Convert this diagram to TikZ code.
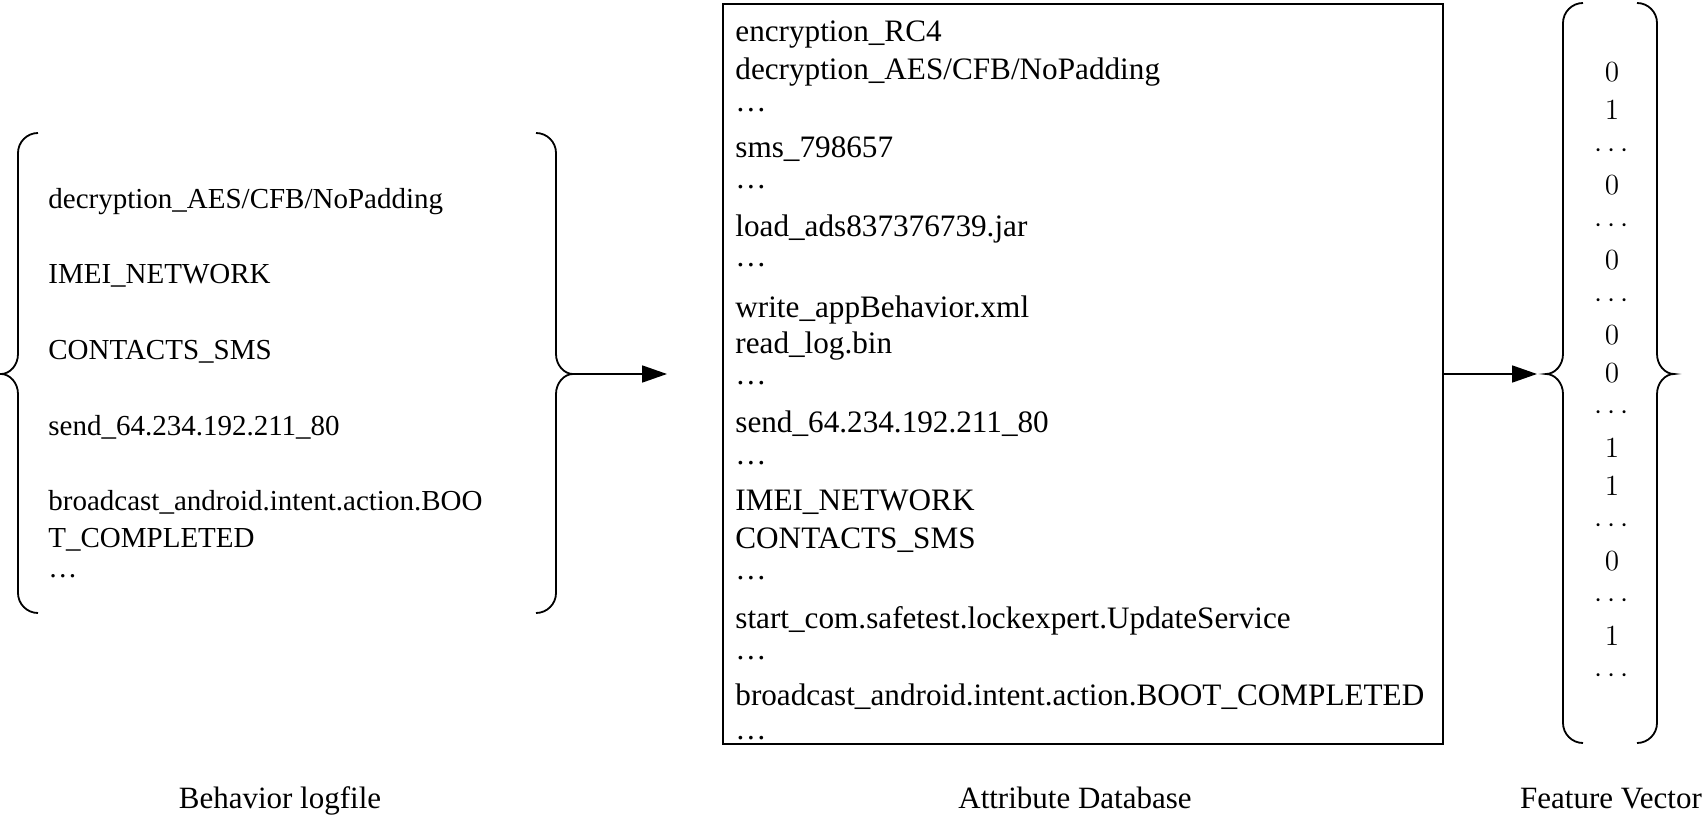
\documentclass[tikz,border=0pt]{standalone}
\usepackage{fix-cm}
\usepackage[no-math]{fontspec}
\setmainfont{Liberation Serif}
\usetikzlibrary{arrows.meta}

\tikzset{
  brace/.style={line width=0.9pt},
  logitem/.style={anchor=base west,inner sep=0pt,font=\fontsize{14.5}{17}\selectfont},
  dbitem/.style={anchor=base west,inner sep=0pt,font=\fontsize{15.6}{18}\selectfont},
  fvitem/.style={anchor=base,inner sep=0pt,font=\fontsize{14.6}{17}\selectfont},
  caplabel/.style={anchor=base,inner sep=0pt,font=\fontsize{15.5}{18}\selectfont},
  flow/.style={line width=0.9pt,-{Triangle[length=12.5pt,width=8.5pt]}}
}

% curly bracket: stem x, top, bottom, cusp, side (1 = opens right, -1 = opens left)
\newcommand{\curly}[5]{%
  \draw[brace] ({#1+(#5)*20},#2) .. controls ({#1+(#5)*9},#2) and (#1,#2+9) .. (#1,#2+20)
    -- (#1,#4-20) .. controls (#1,#4-9) and ({#1-(#5)*8},#4) .. ({#1-(#5)*17},#4)
    .. controls ({#1-(#5)*8},#4) and (#1,#4+9) .. (#1,#4+20)
    -- (#1,#3-20) .. controls (#1,#3-9) and ({#1+(#5)*9},#3) .. ({#1+(#5)*20},#3);}

\begin{document}
\begin{tikzpicture}[x=0.5pt,y=-0.5pt]
  \useasboundingbox (0,0) rectangle (1708,818);

  % behavior logfile
  \curly{18}{133}{613}{374}{1}
  \curly{556}{133}{613}{374}{-1}
  \node[logitem] (log1) at (48,209) {decryption\_AES/CFB/NoPadding};
  \node[logitem] (log2) at (48,284) {IMEI\_NETWORK};
  \node[logitem] (log3) at (48,359) {CONTACTS\_SMS};
  \node[logitem] (log4) at (48,435) {send\_64.234.192.211\_80};
  \node[logitem] (log5) at (48,510) {broadcast\_android.intent.action.BOO};
  \node[logitem] (log6) at (48,547) {T\_COMPLETED};
  \node[logitem] (log7) at (48,577) {\dots};

  % attribute database
  \node[draw,line width=1pt,minimum width=360pt,minimum height=370pt,inner sep=0pt] (db) at (1083,374) {};
  \node[dbitem] (db1) at (735,42) {encryption\_RC4};
  \node[dbitem] (db2) at (735,80) {decryption\_AES/CFB/NoPadding};
  \node[dbitem] (db3) at (735,112) {\dots};
  \node[dbitem] (db4) at (735,158) {sms\_798657};
  \node[dbitem] (db5) at (735,189) {\dots};
  \node[dbitem] (db6) at (735,237) {load\_ads837376739.jar};
  \node[dbitem] (db7) at (735,267) {\dots};
  \node[dbitem] (db8) at (735,317) {write\_appBehavior.xml};
  \node[dbitem] (db9) at (735,353) {read\_log.bin};
  \node[dbitem] (db10) at (735,384) {\dots};
  \node[dbitem] (db11) at (735,432) {send\_64.234.192.211\_80};
  \node[dbitem] (db12) at (735,464) {\dots};
  \node[dbitem] (db13) at (735,510) {IMEI\_NETWORK};
  \node[dbitem] (db14) at (735,548) {CONTACTS\_SMS};
  \node[dbitem] (db15) at (735,579) {\dots};
  \node[dbitem] (db16) at (735,628) {start\_com.safetest.lockexpert.UpdateService};
  \node[dbitem] (db17) at (735,659) {\dots};
  \node[dbitem] (db18) at (735,705) {broadcast\_android.intent.action.BOOT\_COMPLETED};
  \node[dbitem] (db19) at (735,739) {\dots};

  % feature vector
  \curly{1563}{3}{743}{374}{1}
  \curly{1657}{3}{743}{374}{-1}
  \foreach \v [count=\k from 0] in {0,1,\cdots,0,\cdots,0,\cdots,0,0,\cdots,1,1,\cdots,0,\cdots,1,\cdots}
    \node[fvitem] (fv\k) at (1612,82+37.55*\k) {$\v$};

  % arrows
  \coordinate (logtip) at (573,374);
  \coordinate (dbin) at (667,374);
  \coordinate (fvtip) at (1546,374);
  \draw[flow] (logtip) -- (dbin);
  \draw[flow,shorten >=4.5pt] (db.east) -- (fvtip);

  \node[caplabel] (logname) at (280,808) {Behavior logfile};
  \node[caplabel] (dbname) at (1075,808) {Attribute Database};
  \node[caplabel] (fvname) at (1611,808) {Feature Vector};
\end{tikzpicture}
\end{document}
